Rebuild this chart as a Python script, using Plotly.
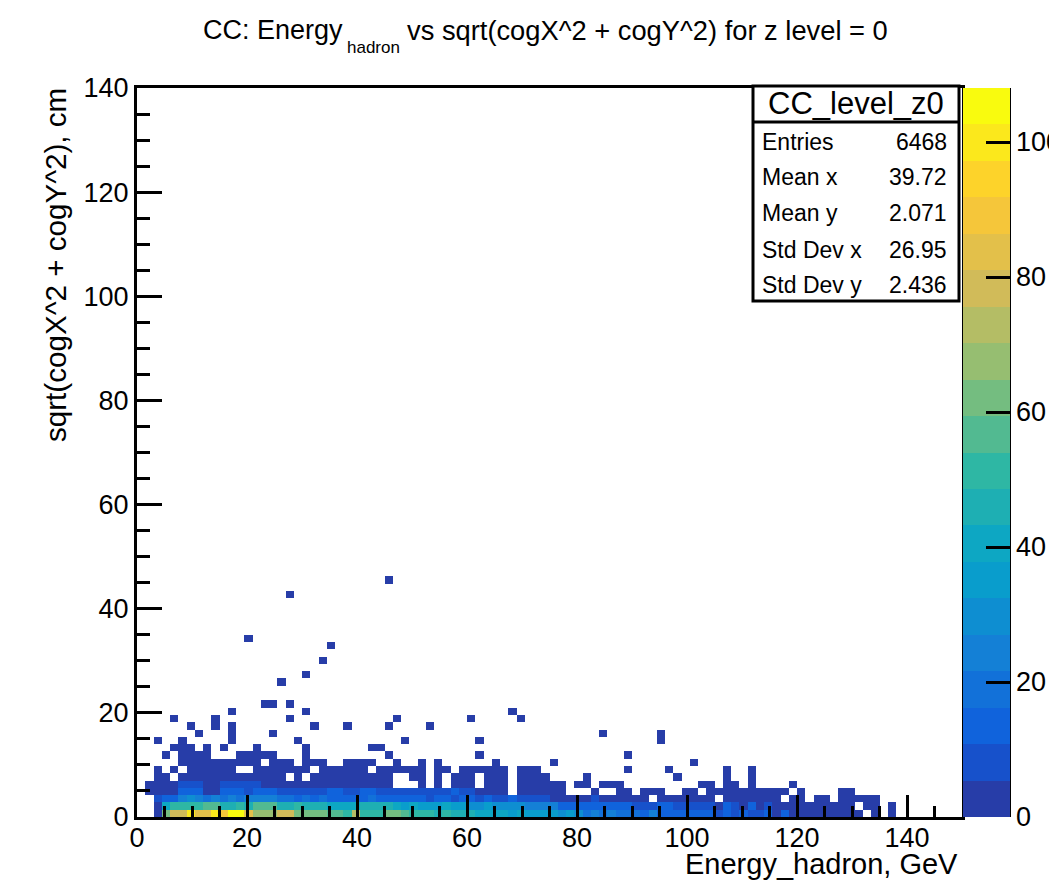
import numpy as np
import plotly.graph_objects as go

# ---------------- data (bin counts) ----------------
# x bins: 100 bins of 1.5 GeV over [0,150]; y bins: 100 bins of 1.4 cm over [0,140]
x_edges_min, x_bin_w = 0.0, 1.5
y_edges_min, y_bin_h = 0.0, 1.4
n_xbins, n_ybins = 100, 100

row0 = [0,0,4,60,78,80,100,84,85,98, 88,105,108,84,66,68,67,78,77,62,
        63,60,61,55,56,52,72,50,49,51, 60,61,58,50,52,49,47,51,46,48,
        44,40,42,38,41,36,39,35,37,33, 34,31,33,30,20,22,18,24,20,17,
        19,16,22,15,14,16,13,15,11,12, 10,13,9,11,8,10,12,4,11,5,
        4,5,3,4,3,4,2,3,0,2, 0,1,0,0,0,0,0,0,0,0]
row1 = [0,0,3,40,50,52,49,51,57,56, 48,47,50,46,55,58,56,48,47,49,
        46,48,44,42,41,43,40,46,45,47, 44,38,36,39,35,37,34,38,33,36,
        32,30,33,29,31,27,28,25,26,23, 24,16,15,14,16,13,12,14,11,12,
        8,10,9,11,12,8,7,9,6,7, 5,12,6,5,11,4,9,3,4,3,
        4,2,3,2,3,2,2,0,1,2, 0,1,0,0,0,0,0,0,0,0]
row2 = [0,0,6,14,15,24,28,26,20,22, 19,24,21,25,26,24,22,17,19,16,
        18,15,17,16,14,15,12,16,17,15, 13,14,12,11,13,10,12,11,9,12,
        11,8,12,7,9,11,6,8,10,7, 5,4,5,3,4,7,4,3,4,3,
        4,3,0,3,2,3,2,3,2,2, 0,3,2,2,3,1,2,1,0,2,
        1,0,1,1,0,1,2,1,1,1, 0,0,0,0,0,0,0,0,0,0]
row3 = [0,1,3,4,5,12,14,13,5,4, 11,13,12,8,12,11,13,8,9,7,
        8,7,9,12,11,7,8,12,11,10, 7,8,6,7,8,6,7,6,11,7,
        6,4,5,3,4,0,3,4,2,3, 2,2,0,0,0,2,0,0,1,2,
        0,1,2,1,0,0,2,1,0,1, 1,1,2,1,1,1,1,1,2,0,
        1,0,0,0,0,1,1,0,0,0, 0,0,0,0,0,0,0,0,0,0]
row4 = [0,2,3,4,5,6,7,7,5,4, 6,7,6,6,7,4,5,4,3,5,
        4,3,4,3,4,3,3,2,3,2, 1,0,0,0,2,0,2,0,3,2,
        1,0,2,1,2,0,1,2,1,2, 1,1,0,1,1,0,1,1,1,0,
        0,0,0,0,0,0,0,0,1,1, 0,1,1,0,1,0,0,0,0,1,
        0,0,0,0,0,0,0,0,0,0, 0,0,0,0,0,0,0,0,0,0]

# sparse upper rows: x-bin indices of occupied bins (each a single entry)
row5_cols = [2,3,5,6,7,8,9,10,11,12,13,14,15,16,17,19,21,22,23,24,25,26,27,28,29,30,
             33,34,36,38,39,40,42,43,44,46,47,48,49,54,65,71,74]
row6_cols = [2,4,6,7,8,9,10,11,14,15,16,17,18,19,20,22,23,24,25,26,27,29,30,31,32,33,
             34,36,37,39,40,41,42,43,44,46,47,48,59,64,71,74]
row7_cols = [5,6,7,8,9,10,11,12,13,14,16,17,18,20,21,22,25,26,27,28,31,34,36,43,50,67]
row8_cols = [3,5,6,7,8,12,13,14,15,16,20,30,41,59]
row9_cols = [4,5,6,8,10,14,20,28,29]
row10_cols = [2,5,11,19,32,41,63]
row11_cols = [7,11,16,56,63]
row12_cols = [6,9,11,21,25,30,35]
row13_cols = [4,9,18,31,40,46]
row14_cols = [11,20,45]
row15_cols = [15,16,18]
outlier_rows = [18,19,21,23,24,30,32]
outlier_cols = [17,20,22,23,13,18,30]
sparse_bin_count = 1

stats_labels = ["Entries", "Mean x", "Mean y", "Std Dev x", "Std Dev y"]
stats_values = ["6468", "39.72", "2.071", "26.95", "2.436"]
hist_name = "CC_level_z0"

z_max = 108
x_ticks = [0, 20, 40, 60, 80, 100, 120, 140]
y_ticks = [0, 20, 40, 60, 80, 100, 120, 140]
cbar_ticks = [0, 20, 40, 60, 80, 100]

# ---------------- build the grid ----------------
grid = np.zeros((n_ybins, n_xbins))
for k, r in enumerate([row0, row1, row2, row3, row4]):
    grid[k, :] = r
sparse = {5: row5_cols, 6: row6_cols, 7: row7_cols, 8: row8_cols, 9: row9_cols,
          10: row10_cols, 11: row11_cols, 12: row12_cols, 13: row13_cols,
          14: row14_cols, 15: row15_cols}
for k, cols in sparse.items():
    for j in cols:
        grid[k, j] = sparse_bin_count
for k, j in zip(outlier_rows, outlier_cols):
    grid[k, j] = sparse_bin_count
z = [[(v if v > 0 else None) for v in row] for row in grid.tolist()]

# ---------------- ROOT kBird palette, 20 contour levels ----------------
st = [0.0, 0.125, 0.25, 0.375, 0.5, 0.625, 0.75, 0.875, 1.0]
rr = [0.2082, 0.0592, 0.0780, 0.0232, 0.1802, 0.5301, 0.8186, 0.9956, 0.9764]
gg = [0.1664, 0.3599, 0.5041, 0.6419, 0.7178, 0.7492, 0.7328, 0.7862, 0.9832]
bb = [0.5293, 0.8684, 0.8385, 0.7914, 0.6425, 0.4662, 0.3499, 0.1968, 0.0539]
ndiv = 20
cs = []
for i in range(ndiv):
    f = int((i + 0.99) * 255 / ndiv) / 254.0
    c = "rgb(%d,%d,%d)" % (round(np.interp(f, st, rr) * 255),
                           round(np.interp(f, st, gg) * 255),
                           round(np.interp(f, st, bb) * 255))
    cs.append([i / ndiv, c])
    cs.append([(i + 1) / ndiv, c])

# ---------------- geometry helpers (reference pixel -> paper) ----------------
PAGE_W, PAGE_H = 1057, 883
OFF = 8  # default page body margin
L, R, T, B = 137, 962, 88, 817
def px(xp):
    return (xp - L) / (R - L)
def py(yp):
    return (B - yp) / (B - T)

FONT = "Liberation Sans, Arial, Helvetica, sans-serif"

fig = go.Figure()
fig.add_trace(go.Heatmap(
    z=z, x0=x_edges_min + x_bin_w / 2, dx=x_bin_w,
    y0=y_edges_min + y_bin_h / 2, dy=y_bin_h,
    zmin=0, zmax=z_max, colorscale=cs, zsmooth=False, hoverinfo="skip",
    colorbar=dict(
        x=px(963), xanchor="left", xref="paper", xpad=0,
        y=0.5, yanchor="middle", ypad=0, len=1, lenmode="fraction",
        thickness=47, thicknessmode="pixels", outlinewidth=0,
        tickmode="array", tickvals=cbar_ticks, ticks="inside",
        ticklen=24, tickwidth=3, tickcolor="black",
        tickfont=dict(family=FONT, size=27, color="black"),
    ),
))

axis_common = dict(showline=True, linecolor="black", linewidth=3, mirror=True,
                   showgrid=False, zeroline=False, ticks="inside", tickwidth=3,
                   tickcolor="black", tickfont=dict(family=FONT, size=27, color="black"))
fig.update_xaxes(range=[0, 150], tickmode="array", tickvals=x_ticks, ticklen=22,
                 ticklabelstandoff=-5,
                 minor=dict(dtick=5, tick0=0, ticks="inside", ticklen=11, tickwidth=3,
                            tickcolor="black"),
                 **axis_common)
fig.update_yaxes(range=[0, 140], tickmode="array", tickvals=y_ticks, ticklen=25,
                 ticklabelstandoff=0,
                 minor=dict(dtick=5, tick0=0, ticks="inside", ticklen=13, tickwidth=3,
                            tickcolor="black"),
                 **axis_common)

shapes = []
# colour bar axis line
shapes.append(dict(type="line", xref="paper", yref="paper", x0=px(1009.5), x1=px(1009.5),
                   y0=0, y1=1, line=dict(color="black", width=3)))
# stats box
shapes.append(dict(type="rect", xref="paper", yref="paper", x0=px(753), x1=px(959),
                   y0=py(301), y1=py(86), fillcolor="white",
                   line=dict(color="black", width=3)))
shapes.append(dict(type="line", xref="paper", yref="paper", x0=px(753), x1=px(959),
                   y0=py(122), y1=py(122), line=dict(color="black", width=3)))

ann = []
ann.append(dict(text=hist_name, xref="paper", yref="paper", x=px(856), y=py(104),
                xanchor="center", yanchor="middle", showarrow=False,
                font=dict(family=FONT, size=31, color="black")))
row_y = [142, 177, 213, 250, 285]
for lab, val, yy in zip(stats_labels, stats_values, row_y):
    ann.append(dict(text=lab, xref="paper", yref="paper", x=px(760), y=py(yy),
                    xanchor="left", yanchor="middle", showarrow=False,
                    font=dict(family=FONT, size=23, color="black")))
    ann.append(dict(text=val, xref="paper", yref="paper", x=px(949), y=py(yy),
                    xanchor="right", yanchor="middle", showarrow=False,
                    font=dict(family=FONT, size=23, color="black")))
# title pieces
ann.append(dict(text="CC: Energy", xref="paper", yref="paper", x=px(345), y=py(30),
                xanchor="right", yanchor="middle", showarrow=False,
                font=dict(family=FONT, size=27, color="black")))
ann.append(dict(text="hadron", xref="paper", yref="paper", x=px(345), y=py(48),
                xanchor="left", yanchor="middle", showarrow=False,
                font=dict(family=FONT, size=17, color="black")))
ann.append(dict(text="vs sqrt(cogX^2 + cogY^2) for z level = 0", xref="paper", yref="paper",
                x=px(405), y=py(30), xanchor="left", yanchor="middle", showarrow=False,
                font=dict(family=FONT, size=27.3, color="black")))
# axis titles
ann.append(dict(text="Energy_hadron, GeV", xref="paper", yref="paper", x=px(959), y=py(864),
                xanchor="right", yanchor="middle", showarrow=False, borderpad=0,
                font=dict(family=FONT, size=29, color="black")))
ann.append(dict(text="sqrt(cogX^2 + cogY^2), cm", xref="paper", yref="paper", x=px(55),
                y=py(86), xanchor="center", yanchor="top", textangle=-90, showarrow=False,
                font=dict(family=FONT, size=29.6, color="black")))

fig.update_layout(
    width=PAGE_W - OFF, height=PAGE_H - OFF,
    margin=dict(l=L - OFF, r=PAGE_W - R, t=T - OFF, b=PAGE_H - B, autoexpand=False),
    paper_bgcolor="white", plot_bgcolor="white",
    shapes=shapes, annotations=ann, showlegend=False,
)
fig.write_html("out.html")
